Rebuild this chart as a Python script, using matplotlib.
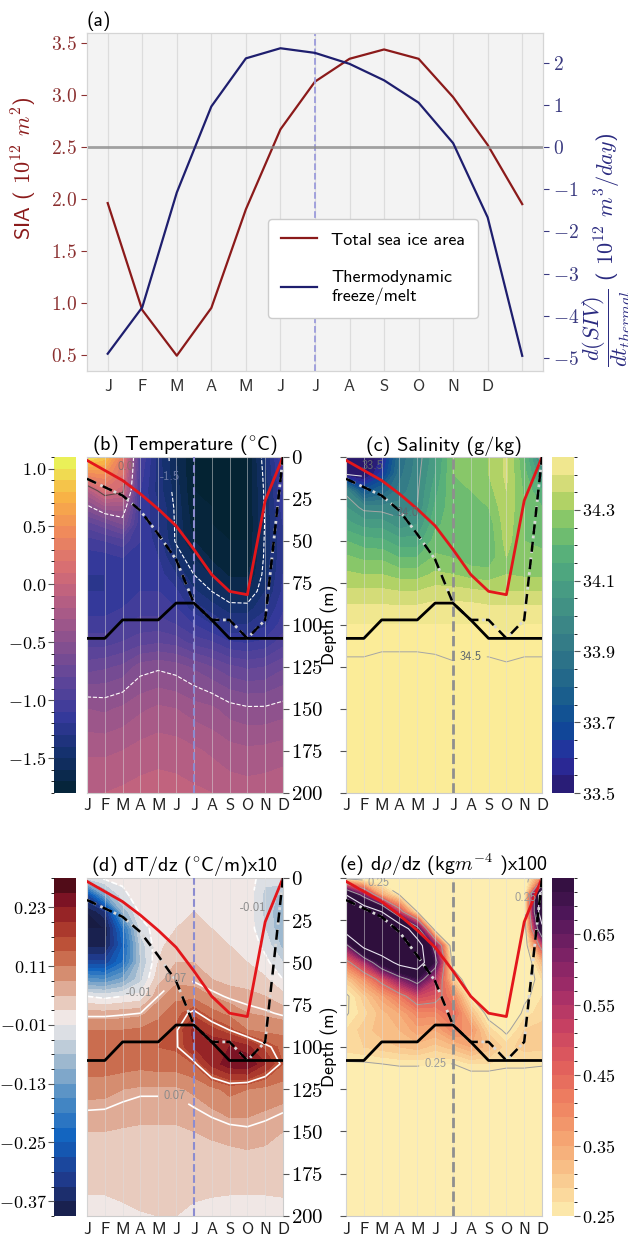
import numpy as np
import matplotlib
matplotlib.use("Agg")
import matplotlib.pyplot as plt
from matplotlib.colors import (LinearSegmentedColormap, ListedColormap,
                               BoundaryNorm, Normalize, TwoSlopeNorm)
from matplotlib.cm import ScalarMappable
from matplotlib.ticker import FuncFormatter

plt.rcParams['font.family'] = ['cmss10', 'DejaVu Sans']
plt.rcParams['mathtext.fontset'] = 'cm'

months = ['J', 'F', 'M', 'A', 'M', 'J', 'J', 'A', 'S', 'O', 'N', 'D']

# (a) seasonal cycle, Jan..Dec and Jan again
sia = [1.96, 0.93, 0.49, 0.95, 1.90, 2.67, 3.13, 3.35, 3.44, 3.35, 2.98, 2.52, 1.95]
freeze_melt = [-4.90, -3.80, -1.08, 0.96, 2.10, 2.34, 2.23, 1.97, 1.58, 1.05, 0.09, -1.67, -4.95]

# depth levels (m) of the monthly profiles
depth = [0, 10, 20, 30, 40, 50, 60, 70, 80, 90, 100, 110, 125, 150, 175, 200]

# lines over panels b-e, depth (m) Jan..Dec
depth_red = [2, 8, 14, 22, 31, 41, 55, 70, 80, 82, 26, 0]
depth_dashed = [13, 18, 23, 32, 46, 61, 87, 97, 97, 108, 97, 0]
depth_solid = [108, 108, 97, 97, 97, 87, 87, 97, 108, 108, 108, 108]

# monthly profiles (one list per month, values at `depth`)
temp = [
    [1.05, 0.45, -0.2, -0.55, -0.85, -1.05, -1.15, -1.2, -1.2, -1.15, -1.05, -0.95, -0.75, -0.4, -0.22, -0.1],
    [0.85, 0.5, 0.15, -0.35, -0.75, -1.0, -1.15, -1.2, -1.2, -1.15, -1.05, -0.95, -0.72, -0.42, -0.22, -0.1],
    [0.3, 0.2, 0.05, -0.35, -0.6, -0.95, -1.1, -1.15, -1.15, -1.1, -1.0, -0.9, -0.68, -0.38, -0.2, -0.08],
    [-1.0, -1.05, -1.1, -1.1, -1.1, -1.1, -1.1, -1.1, -1.1, -1.05, -0.95, -0.85, -0.55, -0.32, -0.16, -0.06],
    [-1.35, -1.35, -1.35, -1.3, -1.3, -1.25, -1.2, -1.15, -1.1, -1.05, -0.95, -0.82, -0.52, -0.28, -0.14, -0.05],
    [-1.6, -1.58, -1.55, -1.53, -1.52, -1.52, -1.42, -1.3, -1.18, -1.1, -1.0, -0.85, -0.55, -0.3, -0.15, -0.06],
    [-1.8, -1.8, -1.8, -1.78, -1.75, -1.7, -1.6, -1.5, -1.38, -1.25, -1.1, -0.95, -0.62, -0.35, -0.18, -0.08],
    [-1.8, -1.8, -1.8, -1.8, -1.8, -1.78, -1.72, -1.62, -1.5, -1.35, -1.2, -1.0, -0.7, -0.38, -0.22, -0.1],
    [-1.8, -1.8, -1.8, -1.8, -1.8, -1.8, -1.78, -1.72, -1.6, -1.45, -1.3, -1.1, -0.78, -0.45, -0.26, -0.14],
    [-1.8, -1.8, -1.8, -1.8, -1.8, -1.8, -1.78, -1.72, -1.62, -1.45, -1.3, -1.12, -0.82, -0.48, -0.28, -0.15],
    [-1.42, -1.45, -1.47, -1.48, -1.49, -1.48, -1.47, -1.45, -1.4, -1.32, -1.22, -1.08, -0.8, -0.48, -0.27, -0.14],
    [-1.0, -1.05, -1.1, -1.15, -1.2, -1.22, -1.22, -1.2, -1.18, -1.12, -1.05, -0.95, -0.72, -0.45, -0.25, -0.12],
]
salt = [
    [33.3, 33.48, 33.98, 34.05, 34.12, 34.2, 34.26, 34.31, 34.36, 34.41, 34.45, 34.47, 34.52, 34.6, 34.65, 34.68],
    [33.38, 33.46, 33.72, 33.98, 34.08, 34.17, 34.24, 34.3, 34.36, 34.41, 34.45, 34.47, 34.52, 34.6, 34.65, 34.68],
    [33.55, 33.62, 33.8, 33.97, 34.08, 34.16, 34.24, 34.3, 34.36, 34.41, 34.45, 34.48, 34.53, 34.6, 34.65, 34.68],
    [33.85, 33.88, 33.92, 33.97, 34.02, 34.12, 34.2, 34.28, 34.35, 34.41, 34.45, 34.48, 34.53, 34.6, 34.65, 34.68],
    [33.97, 33.98, 33.99, 34.0, 34.05, 34.12, 34.2, 34.28, 34.35, 34.41, 34.45, 34.48, 34.53, 34.6, 34.65, 34.68],
    [34.08, 34.1, 34.13, 34.16, 34.19, 34.22, 34.26, 34.31, 34.37, 34.42, 34.45, 34.48, 34.52, 34.6, 34.65, 34.68],
    [34.25, 34.25, 34.24, 34.23, 34.22, 34.22, 34.25, 34.3, 34.37, 34.42, 34.45, 34.47, 34.51, 34.6, 34.65, 34.68],
    [34.28, 34.27, 34.25, 34.22, 34.2, 34.2, 34.22, 34.28, 34.36, 34.42, 34.45, 34.47, 34.52, 34.6, 34.65, 34.68],
    [34.3, 34.3, 34.28, 34.25, 34.22, 34.21, 34.22, 34.27, 34.35, 34.41, 34.45, 34.47, 34.52, 34.6, 34.65, 34.68],
    [34.36, 34.36, 34.35, 34.34, 34.33, 34.32, 34.3, 34.3, 34.35, 34.41, 34.44, 34.46, 34.51, 34.6, 34.65, 34.68],
    [34.2, 34.22, 34.24, 34.25, 34.25, 34.25, 34.26, 34.29, 34.35, 34.41, 34.45, 34.47, 34.52, 34.6, 34.65, 34.68],
    [33.95, 34.05, 34.15, 34.2, 34.23, 34.24, 34.26, 34.29, 34.35, 34.41, 34.45, 34.47, 34.52, 34.6, 34.65, 34.68],
]
dtdz = [
    [-0.03, -0.3, -0.4, -0.4, -0.38, -0.3, -0.15, -0.01, 0.06, 0.11, 0.13, 0.13, 0.09, 0.05, 0.03, 0.01],
    [0.0, -0.12, -0.35, -0.4, -0.38, -0.3, -0.16, -0.02, 0.06, 0.11, 0.13, 0.13, 0.088, 0.05, 0.03, 0.01],
    [0.0, -0.02, -0.1, -0.22, -0.25, -0.22, -0.12, -0.01, 0.065, 0.11, 0.13, 0.125, 0.08, 0.047, 0.03, 0.015],
    [0.01, 0.01, 0.0, -0.03, -0.06, -0.07, -0.05, 0.0, 0.07, 0.115, 0.135, 0.12, 0.075, 0.045, 0.035, 0.018],
    [0.01, 0.01, 0.01, 0.01, 0.015, 0.02, 0.04, 0.07, 0.1, 0.125, 0.14, 0.125, 0.075, 0.045, 0.035, 0.02],
    [0.01, 0.01, 0.015, 0.02, 0.03, 0.05, 0.07, 0.1, 0.13, 0.145, 0.145, 0.125, 0.075, 0.045, 0.035, 0.02],
    [0.01, 0.01, 0.02, 0.025, 0.035, 0.05, 0.065, 0.1, 0.16, 0.21, 0.2, 0.14, 0.085, 0.05, 0.03, 0.015],
    [0.01, 0.01, 0.015, 0.02, 0.03, 0.04, 0.05, 0.08, 0.12, 0.18, 0.23, 0.21, 0.1, 0.055, 0.03, 0.012],
    [0.01, 0.01, 0.01, 0.015, 0.02, 0.03, 0.04, 0.065, 0.1, 0.15, 0.23, 0.25, 0.12, 0.06, 0.03, 0.01],
    [0.01, 0.01, 0.01, 0.01, 0.015, 0.02, 0.035, 0.06, 0.08, 0.11, 0.21, 0.26, 0.11, 0.065, 0.03, 0.01],
    [-0.03, -0.05, -0.05, -0.04, -0.02, 0.0, 0.025, 0.05, 0.075, 0.1, 0.16, 0.2, 0.1, 0.06, 0.03, 0.01],
    [-0.01, -0.08, -0.1, -0.1, -0.08, -0.04, -0.01, 0.03, 0.065, 0.1, 0.13, 0.14, 0.095, 0.05, 0.03, 0.012],
]
drhodz = [
    [0.22, 0.85, 1.0, 0.95, 0.62, 0.42, 0.3, 0.24, 0.245, 0.27, 0.28, 0.245, 0.2, 0.15, 0.12, 0.1],
    [0.2, 0.6, 1.0, 1.0, 0.9, 0.55, 0.38, 0.3, 0.28, 0.3, 0.29, 0.245, 0.2, 0.15, 0.12, 0.1],
    [0.2, 0.35, 0.85, 1.0, 1.0, 0.75, 0.48, 0.36, 0.32, 0.32, 0.3, 0.25, 0.2, 0.15, 0.12, 0.1],
    [0.2, 0.25, 0.5, 1.0, 1.0, 0.9, 0.6, 0.42, 0.35, 0.33, 0.31, 0.255, 0.2, 0.15, 0.12, 0.1],
    [0.2, 0.2, 0.25, 0.7, 0.95, 0.95, 0.7, 0.5, 0.4, 0.36, 0.32, 0.255, 0.2, 0.15, 0.12, 0.1],
    [0.15, 0.15, 0.17, 0.2, 0.6, 0.7, 0.55, 0.48, 0.4, 0.35, 0.3, 0.25, 0.2, 0.15, 0.12, 0.1],
    [0.15, 0.15, 0.15, 0.16, 0.18, 0.22, 0.3, 0.4, 0.45, 0.4, 0.32, 0.25, 0.2, 0.15, 0.12, 0.1],
    [0.15, 0.15, 0.15, 0.15, 0.16, 0.18, 0.2, 0.25, 0.32, 0.38, 0.35, 0.27, 0.2, 0.15, 0.12, 0.1],
    [0.15, 0.15, 0.15, 0.15, 0.15, 0.16, 0.18, 0.2, 0.23, 0.28, 0.32, 0.27, 0.2, 0.15, 0.12, 0.1],
    [0.15, 0.15, 0.15, 0.15, 0.15, 0.15, 0.16, 0.18, 0.2, 0.24, 0.28, 0.26, 0.2, 0.15, 0.12, 0.1],
    [0.2, 0.2, 0.2, 0.2, 0.2, 0.2, 0.22, 0.24, 0.26, 0.29, 0.3, 0.26, 0.2, 0.15, 0.12, 0.1],
    [0.4, 1.0, 1.0, 0.8, 0.5, 0.32, 0.27, 0.27, 0.28, 0.3, 0.3, 0.255, 0.2, 0.15, 0.12, 0.1],
]

# colour ramps (cmocean-like)
thermal = ['#042333', '#13306b', '#34399a', '#5e4599', '#87508f', '#b05c85',
           '#d66d74', '#f08a5b', '#f9b445', '#e8fa5b']
haline = [(0.0, '#29186b'), (0.1, '#2a2c9f'), (0.2, '#0c4b97'), (0.3, '#1c608c'),
          (0.4, '#2d7388'), (0.5, '#3b8686'), (0.6, '#469a83'), (0.7, '#54ae7c'),
          (0.8, '#7cc46a'), (0.88, '#b8d466'), (0.94, '#e0e080'), (1.0, '#fbec98')]
balance = [(0.0, '#181c43'), (0.1, '#1f3c8f'), (0.2, '#1163c0'), (0.3, '#4d8cc4'),
           (0.38, '#93b2cc'), (0.45, '#cdd6de'), (0.5, '#f1ecec'), (0.56, '#e8cbbf'),
           (0.65, '#d89478'), (0.75, '#c35a3c'), (0.85, '#a02a27'), (0.93, '#7a1224'),
           (1.0, '#3c0912')]
matter = ['#fdedb0', '#f9c98f', '#f5a673', '#ef8261', '#e15f5c', '#c94262',
          '#a32d68', '#7a2165', '#50175a', '#2f0f3d']


def fmt(nd):
    return FuncFormatter(lambda v, p: ('$%.' + str(nd) + 'f$') % v)


fig = plt.figure(figsize=(6.28, 12.38), dpi=100)

# ---------------- (a)
red_c = '#8b1a1a'
navy_c = '#1e1e6e'
ax = fig.add_axes([0.1385, 0.7003, 0.7261, 0.2730])
ax.set_facecolor('#f3f3f3')
x13 = np.arange(len(sia))
ln1, = ax.plot(x13, sia, color=red_c, lw=1.6)
ax.axvline(6, color='#9b9bdb', ls='--', lw=1.3)
ax.set_xticks(x13)
ax.set_xticklabels(months + [''])
ax.set_xlim(-0.6, 12.6)
ax.set_ylim(0.342, 3.598)
ax.set_yticks([0.5, 1.0, 1.5, 2.0, 2.5, 3.0, 3.5])
ax.yaxis.set_major_formatter(fmt(1))
ax.tick_params(axis='y', colors='#8b3030', labelsize=14, length=4)
ax.tick_params(axis='x', length=0, labelsize=12, colors='#333333', pad=6)
ax.grid(axis='x', color='#dcdcdc', lw=0.9)
ax.set_ylabel(r'SIA ( $10^{12}$ $m^2$)', color=red_c, fontsize=16)
ax.yaxis.set_label_coords(-0.105, 0.60)
ax.set_title('(a)', loc='left', fontsize=14, pad=5)
for s in ax.spines.values():
    s.set_color('#d5d5d5')

ax2 = ax.twinx()
ax2.axhline(0, color='0.55', lw=2, alpha=0.8)
ln2, = ax2.plot(x13, freeze_melt, color=navy_c, lw=1.6)
ax2.set_ylim(-5.31, 2.70)
ax2.set_yticks(range(-5, 3))
ax2.yaxis.set_major_formatter(fmt(0))
ax2.tick_params(axis='y', colors='#3a3a80', labelsize=14, length=4)
ax2.set_ylabel(r'$\dfrac{d(SIV)}{dt_{thermal}}$ ( $10^{12}$ $m^3/day$)',
               color='#2a2a80', fontsize=16)
ax2.yaxis.set_label_coords(1.082, 0.36)
for s in ax2.spines.values():
    s.set_color('#d5d5d5')
ax2.legend([ln1, ln2], ['Total sea ice area', 'Thermodynamic\nfreeze/melt'],
           loc='lower left', bbox_to_anchor=(0.397, 0.157), borderaxespad=0,
           fontsize=13, facecolor='white', edgecolor='#cccccc', framealpha=1,
           handlelength=2.0, labelspacing=1.25, borderpad=0.7)

# ---------------- (b)-(e)
mo = np.arange(12)


def field_axes(rect, cbar_rect, field, colors, levels, norm, cticks, nd,
               title, vcolor, vlw, right, cbar_left):
    ax = fig.add_axes(rect)
    cmap = LinearSegmentedColormap.from_list('c', colors)
    mids = 0.5 * (levels[:-1] + levels[1:])
    bands = ListedColormap(cmap(norm(mids)))
    bands.set_under(cmap(0.0))
    bands.set_over(cmap(1.0))
    bnorm = BoundaryNorm(levels, bands.N)
    grid = np.array(field).T
    ax.contourf(mo, depth, grid, levels=levels, cmap=bands, norm=bnorm,
                extend='both', zorder=1)
    ax.axvline(6, color=vcolor, ls='--', lw=vlw, zorder=4)
    ax.plot(mo, depth_red, color='#e3161b', lw=2, zorder=5)
    ax.plot(mo, depth_dashed, color='#d8d8d8', lw=2, ls=':', zorder=5)
    ax.plot(mo, depth_dashed, color='k', lw=1.8, ls=(0, (4, 3)), zorder=6)
    ax.plot(mo, depth_solid, color='k', lw=2, zorder=6)
    ax.set_xlim(0, 11)
    ax.set_ylim(200, 0)
    ax.set_xticks(mo)
    ax.set_xticklabels(months)
    ax.set_yticks(range(0, 201, 25))
    ax.yaxis.set_major_formatter(fmt(0))
    ax.grid(axis='x', color='#dddddd', lw=0.7, alpha=0.5)
    ax.set_axisbelow(False)
    ax.tick_params(axis='x', length=0, labelsize=12, colors='#222222', pad=4)
    ax.tick_params(axis='y', length=4, color='#555555', labelsize=15, pad=2)
    if right:
        ax.yaxis.tick_right()
    else:
        ax.tick_params(axis='y', labelleft=False)
        ax.set_ylabel('Depth (m)', fontsize=13, labelpad=2)
    for s in ax.spines.values():
        s.set_color('#cccccc')
    ax.set_title(title, fontsize=14.5, pad=4)

    cax = fig.add_axes(cbar_rect)
    cb = fig.colorbar(ScalarMappable(norm=bnorm, cmap=bands), cax=cax,
                      ticks=cticks, format=fmt(nd))
    cb.outline.set_visible(False)
    cax.tick_params(labelsize=13, length=4, color='#555555', pad=1.5)
    if cbar_left:
        cax.yaxis.set_ticks_position('left')
    return ax, grid


def flat_labels(texts):
    for t in texts:
        t.set_rotation(0)


# (b) temperature
ax_b, T = field_axes([0.1385, 0.3595, 0.3121, 0.2714], [0.086, 0.3595, 0.035, 0.2714],
                     temp, thermal, np.arange(-1.8, 1.15, 0.1), Normalize(-1.8, 1.1),
                     [-1.5, -1.0, -0.5, 0.0, 0.5, 1.0], 1,
                     r'(b) Temperature ($^{\circ}$C)', '#8c8cd0', 1.5, True, True)
cs = ax_b.contour(mo, depth, T, levels=[-1.5, -0.5], colors='w', linewidths=0.8, zorder=2)
flat_labels(ax_b.clabel(cs, levels=[-1.5], manual=[(4.6, 12)], fmt='%.1f',
                        fontsize=9, colors='#6d7aa6', zorder=7))
cs = ax_b.contour(mo, depth, T, levels=[0.0], colors='#5b4646', linewidths=0.8, zorder=2)
flat_labels(ax_b.clabel(cs, manual=[(2.2, 6)], fmt='%.1f', fontsize=9,
                        colors='#8a6a6a', zorder=7))

# (c) salinity
ax_c, S = field_axes([0.551, 0.3595, 0.3121, 0.2714], [0.879, 0.3595, 0.035, 0.2714],
                     salt, haline, np.arange(33.5, 34.46, 0.05), Normalize(33.5, 34.45),
                     [33.5, 33.7, 33.9, 34.1, 34.3], 1,
                     '(c) Salinity (g/kg)', '#8f8f8f', 2, False, False)
cs = ax_c.contour(mo, depth, S, levels=[33.5, 34.0, 34.5],
                  colors=['#e6e6e6', '#a5a5a5', '#a5a5a5'], linewidths=0.7, zorder=2)
flat_labels(ax_c.clabel(cs, manual=[(1.6, 6), (3.5, 34), (7.0, 119)], fmt='%.1f',
                        fontsize=9, colors='#5e686e', zorder=7))

# (d) dT/dz
ax_d, G = field_axes([0.1385, 0.0178, 0.3121, 0.273], [0.086, 0.0178, 0.035, 0.273],
                     dtdz, balance, np.arange(-0.40, 0.30, 0.03),
                     TwoSlopeNorm(vcenter=0.0, vmin=-0.40, vmax=0.29),
                     [-0.37, -0.25, -0.13, -0.01, 0.11, 0.23], 2,
                     r'(d) dT/dz ($^{\circ}$C/m)x10', '#8c8cd0', 1.5, True, True)
cs = ax_d.contour(mo, depth, G, levels=[-0.01, 0.07, 0.15], colors='w',
                  linewidths=1.2, zorder=2)
flat_labels(ax_d.clabel(cs, levels=[-0.01, 0.07],
                        manual=[(4.95, 58), (4.9, 130), (3.0, 71), (9.3, 18)],
                        fmt='%.2f', fontsize=9, colors='#8a8a8a', zorder=7))

# (e) drho/dz
ax_e, R = field_axes([0.551, 0.0178, 0.3121, 0.273], [0.879, 0.0178, 0.035, 0.273],
                     drhodz, matter, np.arange(0.25, 0.74, 0.02), Normalize(0.25, 0.73),
                     [0.25, 0.35, 0.45, 0.55, 0.65], 2,
                     r'(e) d$\rho$/dz (kg$m^{-4}$ )x100', '#8f8f8f', 2, False, False)
cs = ax_e.contour(mo, depth, R, levels=[0.25, 0.45, 0.65], colors='#a0a0a0',
                  linewidths=0.7, zorder=2)
flat_labels(ax_e.clabel(cs, levels=[0.25], manual=[(1.7, 9), (10.1, 12), (5.0, 108)],
                        fmt='%.2f', fontsize=9, colors='#9a9a9a', zorder=7))
ax_e.contour(mo, depth, R, levels=[0.85], colors='#e8e4f0', linewidths=0.8, zorder=2)

fig.savefig('out.png', dpi=100)
